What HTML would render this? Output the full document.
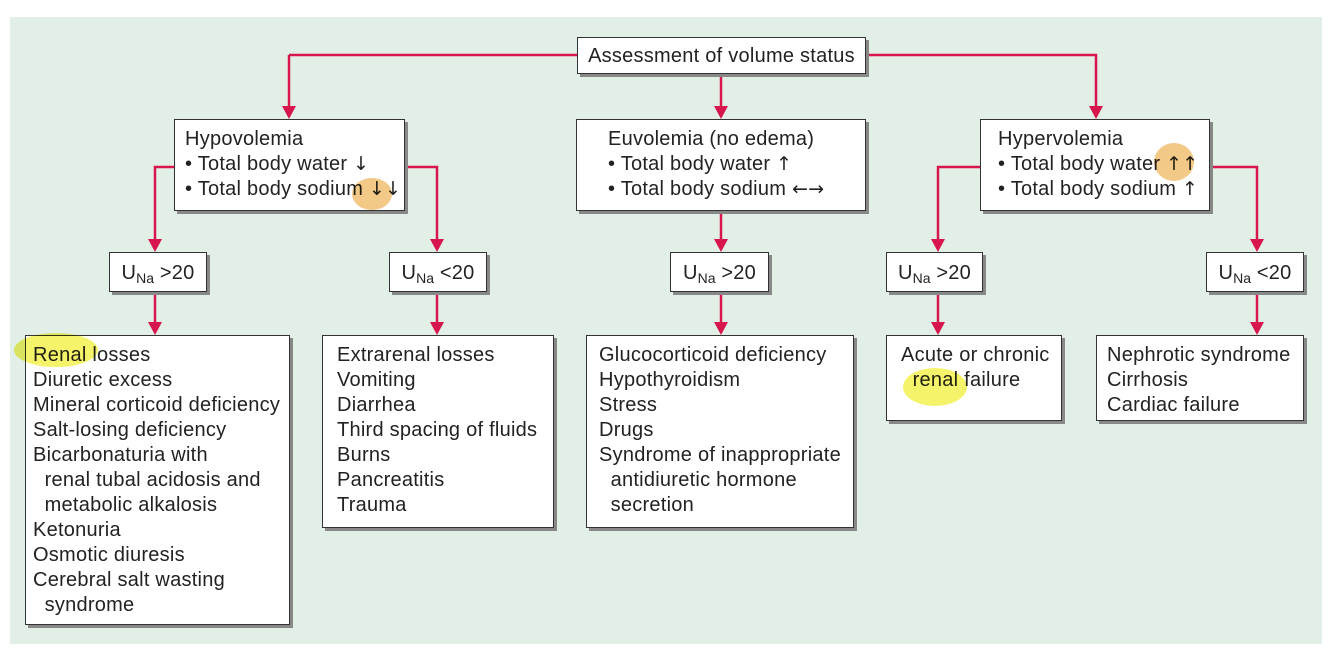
<!DOCTYPE html>
<html><head><style>
body{margin:0;width:1334px;height:653px;background:#fff;position:relative;overflow:hidden;font-family:"Liberation Sans",sans-serif;color:#222}
.bg{position:absolute;left:10px;top:17px;width:1312px;height:627px;background:#e2efe6}
.b{position:absolute;background:#fff;border:1.5px solid #333;box-shadow:3px 3px 0 #888;box-sizing:border-box;font-size:20px;letter-spacing:0.25px;line-height:25px;padding:7px 0 0 10px;white-space:nowrap}
.c{text-align:center;padding:8px 0 0 0}
sub{font-size:14px;vertical-align:-4px;line-height:0;letter-spacing:0}
.ar{font-family:"DejaVu Sans",sans-serif;font-size:19px}
.hl{position:absolute;border-radius:50%;mix-blend-mode:multiply;z-index:5}
svg{position:absolute;left:0;top:0}
</style></head><body>
<div class="bg"></div>
<svg width="1334" height="653">
<g stroke="#d6164c" stroke-width="2.5" fill="none">
<path d="M289,55H577M866,55H1096V110M289,55V110M721,73V110"/>
<path d="M174,167H155V243M405,167H437V243M721,211V243M980,167H938V243M1210,167H1257V243"/>
<path d="M155,292V326M437,292V326M721,292V326M938,292V326M1257,292V326"/>
</g>
<g fill="#d6164c">
<path d="M282,106h14l-7,13zM714,106h14l-7,13zM1089,106h14l-7,13z"/>
<path d="M148,239h14l-7,13zM430,239h14l-7,13zM714,239h14l-7,13zM931,239h14l-7,13zM1250,239h14l-7,13z"/>
<path d="M148,322h14l-7,13zM430,322h14l-7,13zM714,322h14l-7,13zM931,322h14l-7,13zM1250,322h14l-7,13z"/>
</g>
</svg>
<div class="b c" style="left:577px;top:37px;width:289px;height:37px;padding-top:6px">Assessment of volume status</div>
<div class="b" style="left:174px;top:119px;width:231px;height:92px">Hypovolemia<br>• Total body water <span class="ar">↓</span><br>• Total body sodium <span class="ar">↓↓</span></div>
<div class="b" style="left:576px;top:119px;width:290px;height:92px;padding-left:31px">Euvolemia (no edema)<br>• Total body water <span class="ar">↑</span><br>• Total body sodium <span class="ar">←→</span></div>
<div class="b" style="left:980px;top:119px;width:230px;height:92px;padding-left:17px">Hypervolemia<br>• Total body water <span class="ar">↑↑</span><br>• Total body sodium <span class="ar">↑</span></div>
<div class="b c" style="left:109px;top:252px;width:98px;height:40px">U<sub>Na</sub> &gt;20</div>
<div class="b c" style="left:389px;top:252px;width:98px;height:40px">U<sub>Na</sub> &lt;20</div>
<div class="b c" style="left:670px;top:252px;width:99px;height:40px">U<sub>Na</sub> &gt;20</div>
<div class="b c" style="left:886px;top:252px;width:97px;height:40px">U<sub>Na</sub> &gt;20</div>
<div class="b c" style="left:1206px;top:252px;width:98px;height:40px">U<sub>Na</sub> &lt;20</div>
<div class="b" style="left:25px;top:335px;width:265px;height:290px;padding-left:7px">Renal losses<br>Diuretic excess<br>Mineral corticoid deficiency<br>Salt-losing deficiency<br>Bicarbonaturia with<br>&nbsp;&nbsp;renal tubal acidosis and<br>&nbsp;&nbsp;metabolic alkalosis<br>Ketonuria<br>Osmotic diuresis<br>Cerebral salt wasting<br>&nbsp;&nbsp;syndrome</div>
<div class="b" style="left:322px;top:335px;width:232px;height:193px;padding-left:14px">Extrarenal losses<br>Vomiting<br>Diarrhea<br>Third spacing of fluids<br>Burns<br>Pancreatitis<br>Trauma</div>
<div class="b" style="left:586px;top:335px;width:268px;height:193px;padding-left:12px">Glucocorticoid deficiency<br>Hypothyroidism<br>Stress<br>Drugs<br>Syndrome of inappropriate<br>&nbsp;&nbsp;antidiuretic hormone<br>&nbsp;&nbsp;secretion</div>
<div class="b" style="left:886px;top:335px;width:176px;height:86px;padding-left:14px">Acute or chronic<br>&nbsp;&nbsp;renal failure</div>
<div class="b" style="left:1096px;top:335px;width:208px;height:86px;padding-left:10px">Nephrotic syndrome<br>Cirrhosis<br>Cardiac failure</div>
<div class="hl" style="left:14px;top:333px;width:84px;height:34px;background:#f5f36a"></div>
<div class="hl" style="left:903px;top:368px;width:64px;height:38px;background:#f5f36a"></div>
<div class="hl" style="left:352px;top:178px;width:40px;height:32px;background:#f3c987"></div>
<div class="hl" style="left:1154px;top:143px;width:40px;height:38px;background:#f3c987"></div>
</body></html>
